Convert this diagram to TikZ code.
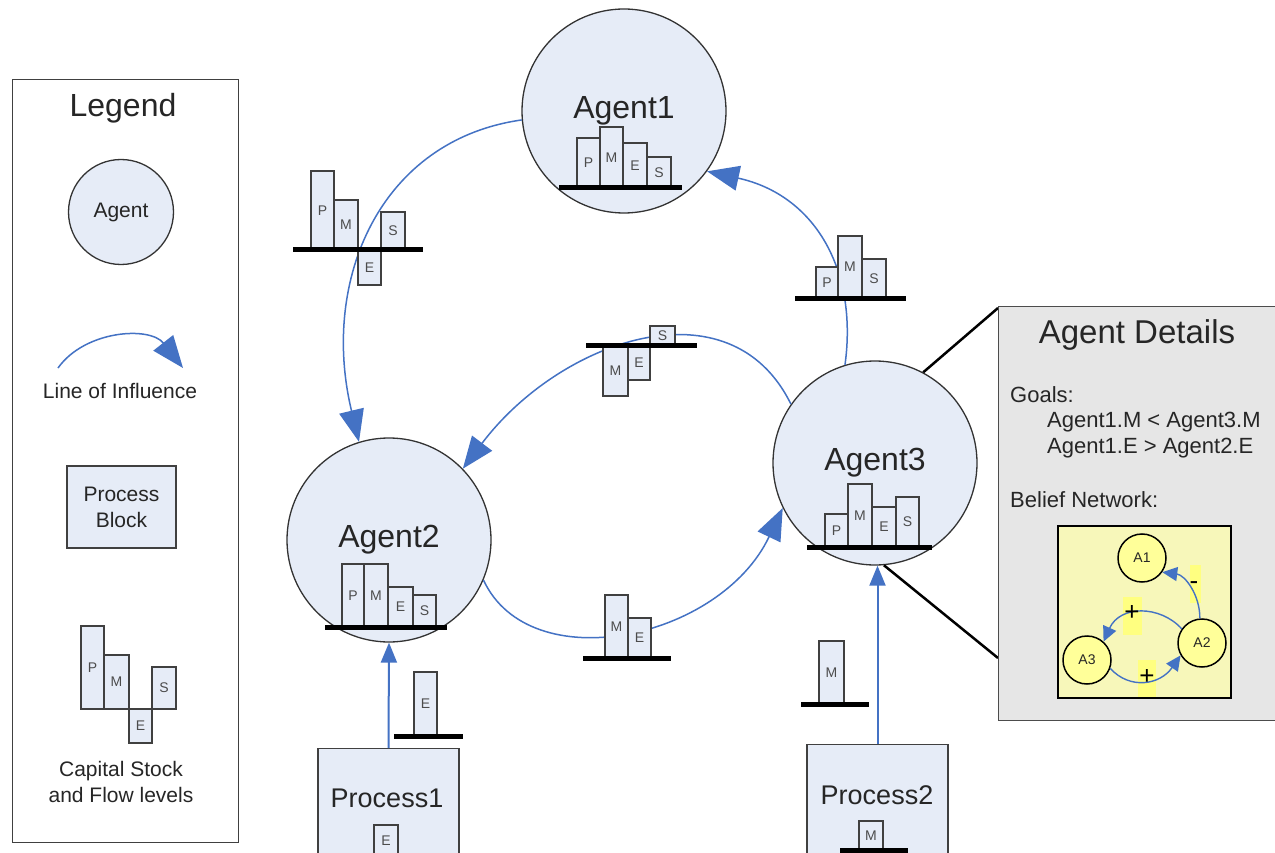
\documentclass[tikz,border=0pt]{standalone}
\usepackage{fontspec}
\setmainfont{Liberation Sans}
\usetikzlibrary{arrows.meta}
\definecolor{agentfill}{HTML}{E6ECF7}
\definecolor{infl}{HTML}{4472C4}
\definecolor{detfill}{HTML}{E6E6E6}
\definecolor{beliefbg}{HTML}{F7F7BA}
\definecolor{beliefnode}{HTML}{FFFF99}
\definecolor{labbg}{HTML}{FFFF80}
\definecolor{txt}{HTML}{262626}
\newcommand\fsz[1]{\fontsize{#1}{#1}\selectfont}
\newcommand\stk[6]{\draw[stock] (#2,#3) rectangle (#4,#5); \node[barlab] (#1) at ({(#2+#4)/2},{(#3+#5)/2}) {#6};}
\newcommand\gnd[3]{\draw[ground] (#1,#3) -- (#2,#3);}
\begin{document}
\begin{tikzpicture}[x=1pt,y=-1pt,
  agent/.style={circle, draw=black!80, line width=1.3pt, fill=agentfill, minimum size=204pt, inner sep=0pt, text=txt, font=\fsz{32}},
  bigarrow/.style={draw=infl, line width=1.5pt, -{Triangle[length=32pt,width=25pt,fill=infl]}},
  midarrow/.style={draw=infl, line width=2pt, -{Triangle[length=20pt,width=16pt,fill=infl]}},
  smallarrow/.style={draw=infl, line width=1.4pt, -{Triangle[length=15pt,width=14pt,fill=infl]}},
  stock/.style={draw=black!75, line width=1.4pt, fill=agentfill},
  ground/.style={line width=5pt, black},
  barlab/.style={font=\fsz{14}, text=black!70, inner sep=0pt},
  legbox/.style={draw=black!75, line width=1.4pt, fill=white, inner sep=0pt},
  procbox/.style={draw=black!75, line width=1.4pt, fill=agentfill, inner sep=0pt, text=txt},
  ltext/.style={font=\fontsize{21}{26}\selectfont, text=txt, align=center, inner sep=0pt},
  ptext/.style={font=\fsz{27}, text=txt, inner sep=0pt},
  detbox/.style={draw=black!70, line width=1.4pt, fill=detfill, inner sep=0pt},
  dtext/.style={font=\fsz{22}, text=txt, inner sep=0pt, anchor=west},
  connline/.style={line width=2.5pt, black},
  beliefbox/.style={draw=black, line width=1.5pt, fill=beliefbg, inner sep=0pt},
  bnode/.style={circle, draw=black, line width=1.5pt, fill=beliefnode, minimum size=48pt, inner sep=0pt, font=\fsz{14}, text=txt},
  labbox/.style={fill=labbg, inner sep=0pt},
  plab/.style={inner sep=0pt, font=\fsz{26}, text=black}
]
\useasboundingbox (0,0) rectangle (1275,853);
\clip (0,0) rectangle (1275,853);
\fill[white] (0,0) rectangle (1275,853);

% ---------- Legend ----------
\node[legbox, anchor=north west, minimum width=226pt, minimum height=763pt] (leg) at (12,79) {};
\node[font=\fsz{32}, text=txt, inner sep=0pt] (legt) at (123,108) {Legend};
\node[agent, minimum size=105pt, font=\fsz{21}] (la) at (121,212) {Agent};
\coordinate (ls) at (58,368);
\coordinate (le) at (183,368);
\draw[bigarrow] (ls) .. controls (85,330) and (150,326) .. (le);
\node[ltext] (lt1) at (120,391) {Line of Influence};
\node[procbox, minimum width=109pt, minimum height=82pt, font=\fontsize{21}{26}\selectfont, align=center] (lp) at (121.5,507) {Process\\Block};
\stk{lP}{81}{626}{104}{709}{P}
\stk{lM}{104}{655}{129}{709}{M}
\stk{lE}{129}{709}{152}{743}{E}
\stk{lS}{152}{667}{176}{709}{S}
\node[ltext] (lcap) at (121,782) {Capital Stock\\and Flow levels};

% ---------- Agents ----------
\node[agent] (a1) at (624,111) {Agent1};
\node[agent] (a2) at (389,540) {Agent2};
\node[agent] (a3) at (875,463) {Agent3};

% ---------- Agent details connectors ----------
\coordinate (dtop) at (998,308);
\coordinate (dlow) at (998,658);
\draw[connline] (a3.62) -- (dtop);
\draw[connline] (a3.-85) -- (dlow);

% ---------- Lines of influence ----------
\draw[bigarrow] (a1.185) .. controls (380,140) and (320,280) .. (a2.107);
\draw[bigarrow] (a3.107) .. controls (858,270) and (815,195) .. (a1.-36);
\draw[bigarrow] (a3.145) .. controls (730,280) and (560,340) .. (a2.44);
\draw[bigarrow] (a2.-23) .. controls (530,680) and (720,640) .. (a3.206);

% ---------- Processes ----------
\node[procbox, anchor=north, minimum width=141pt, minimum height=115pt] (p1) at (388.5,748) {};
\node[ptext] (p1t) at (387,798) {Process1};
\node[procbox, anchor=north, minimum width=141pt, minimum height=115pt] (p2) at (877.5,744) {};
\node[ptext] (p2t) at (877,795) {Process2};
\draw[midarrow] (p1.north) -- (a2.south);
\draw[midarrow] (p2.north) -- (a3.south -| p2.north);

% ---------- Stock bars in agents ----------
\stk{a1P}{577}{138}{600}{188}{P}
\stk{a1M}{600}{127}{623}{188}{M}
\stk{a1E}{623}{143}{647}{188}{E}
\stk{a1S}{647}{157}{671}{188}{S}
\gnd{559}{682}{188}
\stk{a2P}{342}{564}{364}{627}{P}
\stk{a2M}{364}{564}{388}{627}{M}
\stk{a2E}{388}{587}{413}{627}{E}
\stk{a2S}{413}{595}{436}{627}{S}
\gnd{325}{447}{627}
\stk{a3P}{825}{514}{848}{547}{P}
\stk{a3M}{848}{484}{872}{547}{M}
\stk{a3E}{872}{507}{896}{547}{E}
\stk{a3S}{896}{497}{919}{547}{S}
\gnd{807}{932}{547}

% ---------- Flow bars ----------
\stk{fP}{311}{171}{334}{250}{P}
\stk{fM}{334}{200}{358}{250}{M}
\stk{fE}{358}{250}{381}{285}{E}
\stk{fS}{381}{212}{405}{250}{S}
\gnd{293}{423}{250}
\stk{gP}{816}{267}{838}{298}{P}
\stk{gM}{838}{236}{862}{298}{M}
\stk{gS}{862}{259}{886}{298}{S}
\gnd{795}{906}{298}
\stk{hM}{603}{345}{628}{396}{M}
\stk{hE}{628}{345}{650}{380}{E}
\stk{hS}{650}{326}{675}{345}{S}
\gnd{586}{697}{345}
\stk{kM}{605}{595}{628}{658}{M}
\stk{kE}{628}{618}{651}{658}{E}
\gnd{583}{671}{658}
\stk{qE}{414}{672}{437}{736}{E}
\gnd{394}{463}{736}
\stk{rM}{819}{641}{844}{704}{M}
\gnd{801}{869}{704}
\stk{p1E}{374}{825}{398}{856}{E}
\stk{p2M}{859}{821}{883}{850}{M}
\gnd{840}{908}{850}

% ---------- Agent details ----------
\node[detbox, anchor=north west, minimum width=290pt, minimum height=414pt] (det) at (998,306) {};
\node[font=\fsz{33}, text=txt, inner sep=0pt] (dtt) at (1137,335) {Agent Details};
\node[dtext] (g0) at (1010,395) {Goals:};
\node[dtext] (g1) at (1047,422) {Agent1.M < Agent3.M};
\node[dtext] (g2) at (1047,448) {Agent1.E > Agent2.E};
\node[dtext] (bn) at (1010,500) {Belief Network:};
\node[beliefbox, anchor=north west, minimum width=173pt, minimum height=172pt] (bb) at (1057,525) {};
\node[bnode] (A1) at (1142,558) {A1};
\node[bnode] (A2) at (1202,643) {A2};
\node[bnode] (A3) at (1087,660) {A3};
\node[labbox, minimum width=11pt, minimum height=38pt] (mbox) at (1195,584) {};
\node[labbox, minimum width=19pt, minimum height=38pt] (pbox1) at (1132,616) {};
\node[labbox, minimum width=18pt, minimum height=37pt] (pbox2) at (1147,678) {};
\draw[smallarrow] (A2.95) .. controls (1200,595) and (1185,575) .. (A1.-35);
\draw[smallarrow] (A2.145) .. controls (1160,605) and (1120,605) .. (A3.48);
\draw[smallarrow] (A3.-20) .. controls (1130,690) and (1160,685) .. (A2.-150);
\node[plab] (mlab) at (1194,586) {-};
\node[plab] (pl1) at (1132,613) {+};
\node[plab] (pl2) at (1147,677) {+};
\end{tikzpicture}
\end{document}
